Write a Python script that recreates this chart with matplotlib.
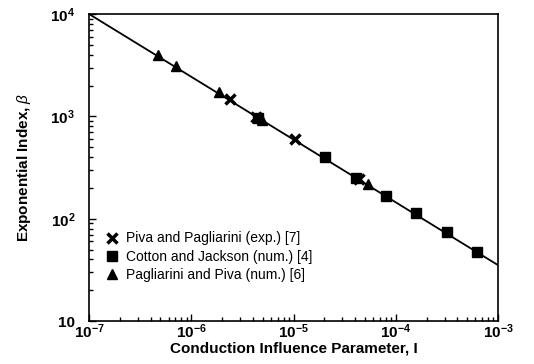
import numpy as np
import matplotlib.pyplot as plt
from matplotlib.ticker import LogLocator, FuncFormatter

plt.rcParams['font.family'] = ['Liberation Sans', 'DejaVu Sans']
plt.rcParams['mathtext.fontset'] = 'custom'
plt.rcParams['mathtext.it'] = 'Liberation Sans:italic'
plt.rcParams['mathtext.rm'] = 'Liberation Sans'
plt.rcParams['mathtext.bf'] = 'Liberation Sans:bold'

# correlation line (end points)
line_x = [1e-7, 1e-3]
line_y = [1e4, 35.2]

# Piva and Pagliarini (exp.) [7]
exp_x = [2.4e-6, 4.3e-6, 1.03e-5, 4.4e-5]
exp_y = [1466, 985, 596, 242]

# Cotton and Jackson (num.) [4]
cj_x = [4.5e-6, 2.03e-5, 4.05e-5, 8.0e-5, 1.58e-4, 3.15e-4, 6.3e-4]
cj_y = [955, 397, 250, 167, 114, 73.5, 46.8]

# Pagliarini and Piva (num.) [6]
pp_x = [4.73e-7, 7.05e-7, 1.87e-6, 4.9e-6, 5.4e-5]
pp_y = [3975, 3125, 1718, 920, 216]

fig = plt.figure(figsize=(5.34, 3.64), dpi=100)
ax = fig.add_axes([0.1667, 0.118, 0.7659, 0.8435])

ax.plot(line_x, line_y, color='black', lw=1.3, zorder=2)
ax.plot(exp_x, exp_y, 'x', color='black', ms=7, mew=2.5, ls='none',
        label='Piva and Pagliarini (exp.) [7]', zorder=3)
ax.plot(cj_x, cj_y, 's', color='black', ms=6.5, ls='none',
        label='Cotton and Jackson (num.) [4]', zorder=3)
ax.plot(pp_x, pp_y, '^', color='black', ms=7.5, ls='none',
        label='Pagliarini and Piva (num.) [6]', zorder=3)

ax.set_xscale('log')
ax.set_yscale('log')
ax.set_xlim(1e-7, 1e-3)
ax.set_ylim(10, 1e4)

ax.xaxis.set_major_locator(LogLocator(base=10, numticks=10))
ax.xaxis.set_minor_locator(LogLocator(base=10, subs=np.arange(2, 10), numticks=10))
ax.yaxis.set_major_locator(LogLocator(base=10, numticks=10))
ax.yaxis.set_minor_locator(LogLocator(base=10, subs=np.arange(2, 10), numticks=10))

def fmt(v, pos):
    e = int(round(np.log10(v)))
    if e == 1:
        return '10'
    return r'$\mathbf{10^{%d}}$' % e

ax.xaxis.set_major_formatter(FuncFormatter(fmt))
ax.yaxis.set_major_formatter(FuncFormatter(fmt))

ax.tick_params(which='both', direction='in', top=False, right=False,
               labelsize=11, width=1)
ax.tick_params(which='major', length=5)
ax.tick_params(axis='x', which='major', pad=1)
ax.tick_params(axis='y', which='major', pad=10)
ax.tick_params(which='minor', length=3)
for lab in ax.get_xticklabels() + ax.get_yticklabels():
    lab.set_fontweight('bold')

for s in ax.spines.values():
    s.set_linewidth(1.2)

ax.set_xlabel('Conduction Influence Parameter, I', fontsize=11,
              fontweight='bold', labelpad=0)
ax.set_ylabel(r'Exponential Index, $\beta$', fontsize=11,
              fontweight='bold', labelpad=12)

ax.legend(loc='lower left', bbox_to_anchor=(0.025, 0.11), frameon=False,
          fontsize=10, handlelength=1.0, handletextpad=0.5,
          labelspacing=0.3, borderaxespad=0)

fig.savefig('out.png', dpi=100)
